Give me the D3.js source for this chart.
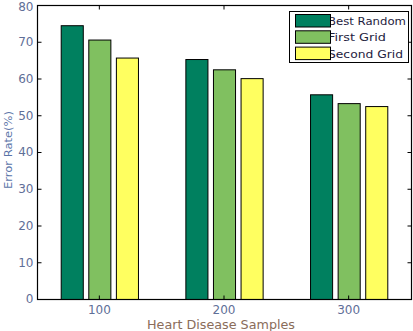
<!DOCTYPE html>
<html>
<head>
<meta charset="utf-8">
<script src="https://cdn.jsdelivr.net/npm/d3@7"></script>
<style>
  html, body { margin: 0; padding: 0; background: #fff; }
  svg { display: block; }
</style>
</head>
<body>
<svg id="chart" width="413" height="331"></svg>
<script>
// Error rate of each search method per sample size
const categories = ["100", "200", "300"];
const seriesNames = ["Best Random", "First Grid", "Second Grid"];
const bestRandom = [74.5, 65.3, 55.7];
const firstGrid = [70.6, 62.5, 53.3];
const secondGrid = [65.7, 60.1, 52.5];
const yTicks = [0, 10, 20, 30, 40, 50, 60, 70, 80];
const xTitle = "Heart Disease Samples";
const yTitle = "Error Rate(%)";

const seriesValues = [bestRandom, firstGrid, secondGrid];
const colors = ["#00805f", "#80c060", "#ffff60"];

const svg = d3.select("#chart");
const margin = { left: 37, right: 2, top: 5, bottom: 32 };
const W = 413, H = 331;
const x0 = margin.left, x1 = W - margin.right;
const y0 = margin.top, y1 = H - margin.bottom;

const x = d3.scaleBand().domain(categories).range([x0, x1])
  .paddingInner(0.336).paddingOuter(0.168);
const xs = d3.scaleBand().domain(seriesNames).range([0, x.bandwidth()])
  .paddingInner(0.2).paddingOuter(0.1);
const y = d3.scaleLinear().domain([0, 80]).range([y1, y0]);

const tickColor = "#5f6f98";

// bars
const groups = svg.append("g").selectAll("g").data(categories).join("g")
  .attr("transform", d => `translate(${x(d)},0)`);
groups.selectAll("rect")
  .data((c, i) => seriesNames.map((s, k) => ({ s, k, v: seriesValues[k][i] })))
  .join("rect")
  .attr("x", d => xs(d.s) + 0.5)
  .attr("y", d => y(d.v) + 0.5)
  .attr("width", xs.bandwidth())
  .attr("height", d => y(0) - y(d.v))
  .attr("fill", d => colors[d.k])
  .attr("stroke", "#000")
  .attr("stroke-width", 1);

// axes with inward ticks on all four sides
const tl = 4;
const axLeft = svg.append("g").attr("transform", `translate(${x0 + 0.5},0)`)
  .call(d3.axisLeft(y).tickValues(yTicks).tickSizeInner(-tl).tickSizeOuter(0).tickPadding(4));
const axRight = svg.append("g").attr("transform", `translate(${x1 + 0.5},0)`)
  .call(d3.axisRight(y).tickValues(yTicks).tickSizeInner(-tl).tickSizeOuter(0).tickFormat(""));
const axBottom = svg.append("g").attr("transform", `translate(0,${y1 + 0.5})`)
  .call(d3.axisBottom(x).tickSizeInner(-tl).tickSizeOuter(0).tickPadding(6));
const axTop = svg.append("g").attr("transform", `translate(0,${y0 + 0.5})`)
  .call(d3.axisTop(x).tickSizeInner(-tl).tickSizeOuter(0).tickFormat(""));

[axLeft, axRight, axBottom, axTop].forEach(a => {
  a.select(".domain").remove();
  a.selectAll("line").attr("stroke", "#000");
  a.selectAll("text").attr("fill", tickColor)
    .style("font-family", "DejaVu Sans, sans-serif")
    .style("font-size", "12px");
});
// keep the topmost label inside the canvas
axLeft.selectAll(".tick").filter(d => d === 80).select("text").attr("dy", "0.45em");

// frame
svg.append("rect").attr("x", x0 + 0.5).attr("y", y0 + 0.5)
  .attr("width", x1 - x0).attr("height", y1 - y0)
  .attr("fill", "none").attr("stroke", "#000").attr("stroke-width", 1.2);

// axis titles
const titleFont = "DejaVu Sans, sans-serif";
svg.append("text")
  .attr("x", 147).attr("y", 328.5)
  .attr("textLength", 148).attr("lengthAdjust", "spacingAndGlyphs")
  .attr("fill", "#8a6c5a")
  .style("font-family", titleFont).style("font-size", "11.5px")
  .text(xTitle);
svg.append("text")
  .attr("transform", `translate(12,189) rotate(-90)`)
  .attr("textLength", 78).attr("lengthAdjust", "spacingAndGlyphs")
  .attr("fill", "#5a74a8")
  .style("font-family", titleFont).style("font-size", "10.5px")
  .text(yTitle);

// legend
const lg = svg.append("g");
lg.append("rect").attr("x", 289.5).attr("y", 11.5).attr("width", 119).attr("height", 51)
  .attr("fill", "#fff").attr("stroke", "#000").attr("stroke-width", 1);
const lgLen = [78, 58, 75];
seriesNames.forEach((s, k) => {
  const yy = 14 + k * 16.3;
  lg.append("text").attr("x", 328).attr("y", yy + 11)
    .attr("textLength", lgLen[k]).attr("lengthAdjust", "spacingAndGlyphs")
    .attr("fill", "#1e2240")
    .style("font-family", titleFont).style("font-size", "11px")
    .text(s);
  lg.append("rect").attr("x", 295.5).attr("y", yy + 0.5).attr("width", 35).attr("height", 12.5)
    .attr("fill", colors[k]).attr("stroke", "#000").attr("stroke-width", 1);
});
</script>
</body>
</html>
